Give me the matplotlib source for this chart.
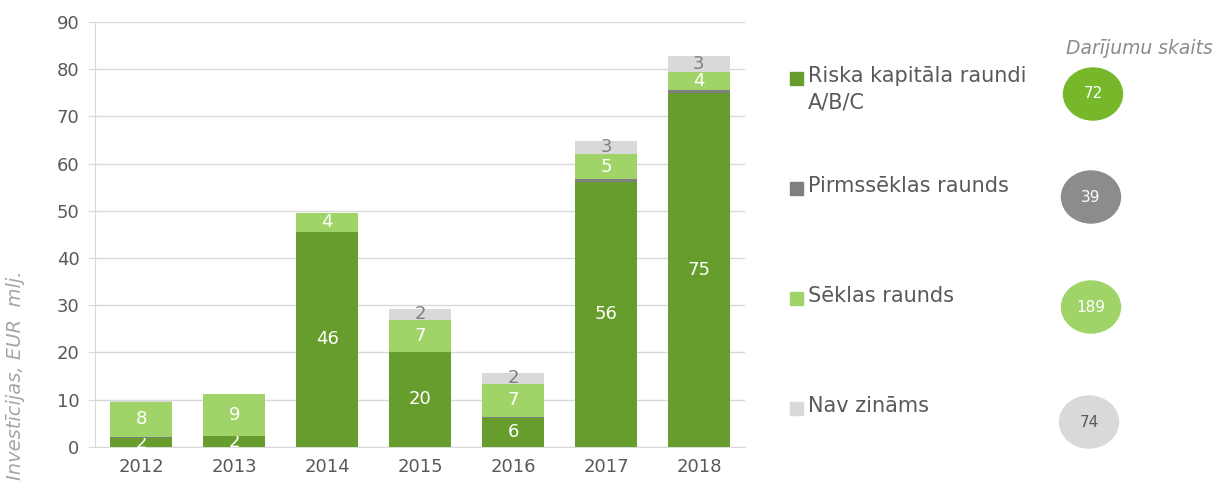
import matplotlib.pyplot as plt
import numpy as np
from matplotlib.patches import Ellipse, Rectangle

plt.rcParams['font.family'] = ['DejaVu Sans']

years = ['2012', '2013', '2014', '2015', '2016', '2017', '2018']
riska = [1.8, 2.2, 45.5, 20.2, 6.1, 56.2, 74.9]
pirms = [0.3, 0.1, 0.0, 0.0, 0.3, 0.5, 0.8]
seklas = [7.5, 8.8, 4.1, 6.7, 6.9, 5.3, 3.8]
nav = [0.1, 0.0, 0.0, 2.3, 2.4, 2.9, 3.3]

names = ['Riska kapitāla raundi\nA/B/C', 'Pirmssēklas raunds', 'Sēklas raunds', 'Nav zināms']
deals = [72, 39, 189, 74]

c_riska = '#669d2c'
c_pirms = '#7f7f7f'
c_seklas = '#a0d468'
c_nav = '#d9d9d9'
txtc = '#595959'

fig = plt.figure(figsize=(12.14, 4.9), dpi=100)
ax = fig.add_axes([0.078, 0.088, 0.536, 0.867])

x = np.arange(len(years))
w = 0.67
bottom = np.zeros(len(years))
series = [(riska, c_riska, 'white', True),
          (pirms, c_pirms, 'white', False),
          (seklas, c_seklas, 'white', True),
          (nav, c_nav, '#7f7f7f', True)]
for vals, col, lc, show in series:
    vals = np.array(vals)
    b = ax.bar(x, vals, w, bottom=bottom, color=col, edgecolor='none', zorder=3)
    if show:
        labs = [f'{v:.0f}' if v >= 1 else '' for v in vals]
        ax.bar_label(b, labels=labs, label_type='center', color=lc, fontsize=13)
    bottom += vals

ax.set_ylim(0, 90)
ax.set_xlim(-0.5, 6.5)
ax.set_yticks(range(0, 91, 10))
ax.set_xticks(x)
ax.set_xticklabels(years)
ax.tick_params(axis='both', colors='#d9d9d9', labelcolor=txtc, labelsize=13)
ax.tick_params(axis='x', length=0, pad=8)
ax.tick_params(axis='y', length=5, pad=6)
ax.grid(axis='y', color='#d9d9d9', lw=1, zorder=0)
for s in ['top', 'right']:
    ax.spines[s].set_visible(False)
ax.spines['left'].set_color('#d9d9d9')
ax.spines['bottom'].set_color('#d9d9d9')

fig.text(0.013, 0.235, 'Investīcijas, EUR  mlj.', rotation=90, ha='center', va='center',
         style='italic', color='#a6a6a6', fontsize=14)

# legend
leg_cols = [c_riska, c_pirms, c_seklas, c_nav]
leg_y = [78, 188, 298, 408]
for nm, col, yy in zip(names, leg_cols, leg_y):
    fig.patches.append(Rectangle((790 / 1214, 1 - (yy + 7) / 490), 13 / 1214, 13 / 490,
                                 transform=fig.transFigure, color=col, figure=fig))
    fig.text(808 / 1214, 1 - (yy - 12) / 490, nm, ha='left', va='top', color=txtc,
             fontsize=15, linespacing=1.38)

# deal counts
fig.text(1139 / 1214, 1 - 48 / 490, 'Darījumu skaits', ha='center', va='center',
         style='italic', color='#8c8c8c', fontsize=13.5)
bub_cols = ['#76b82a', '#8c8c8c', '#a0d468', '#d9d9d9']
bub_txt = ['white', 'white', 'white', '#595959']
bub_xy = [(1093, 94), (1091, 197), (1091, 307), (1089, 422)]
for n, col, tc, (bx, by) in zip(deals, bub_cols, bub_txt, bub_xy):
    fig.patches.append(Ellipse((bx / 1214, 1 - by / 490), 59 / 1214, 52 / 490,
                               transform=fig.transFigure, color=col, figure=fig))
    fig.text(bx / 1214, 1 - by / 490, str(n), ha='center', va='center', color=tc, fontsize=11)

fig.savefig('out.png', dpi=100)
